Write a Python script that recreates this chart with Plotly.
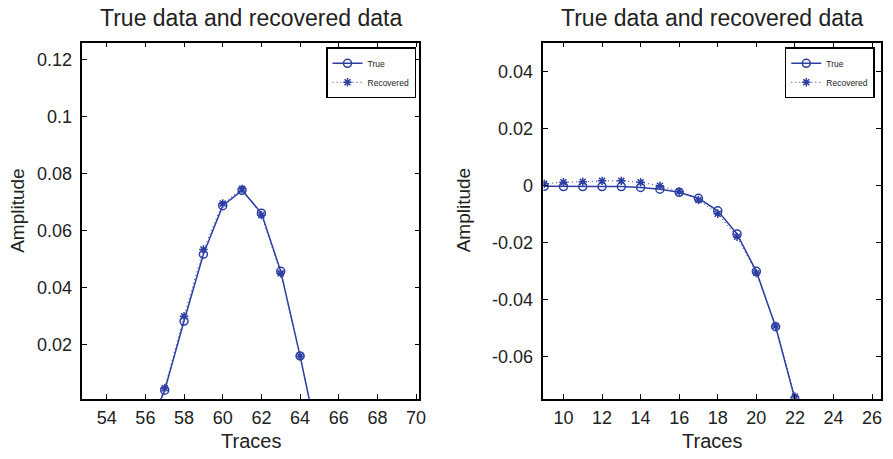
import plotly.graph_objects as go

# ---- data ----
left_traces = [56, 57, 58, 59, 60, 61, 62, 63, 64, 65]
left_true = [-0.0126, 0.0041, 0.0283, 0.0517, 0.0687, 0.0741, 0.0661, 0.0457, 0.0161, -0.0160]
left_recovered = [-0.0120, 0.0048, 0.0300, 0.0534, 0.0695, 0.0746, 0.0654, 0.0450, 0.0160, -0.0160]

right_traces = [9, 10, 11, 12, 13, 14, 15, 16, 17, 18, 19, 20, 21, 22]
right_true = [-0.0003, -0.0004, -0.0004, -0.0004, -0.0004, -0.0007, -0.0013, -0.0024,
              -0.0045, -0.0089, -0.0170, -0.0301, -0.0495, -0.0748]
right_recovered = [0.0006, 0.0011, 0.0013, 0.0016, 0.0016, 0.0011, -0.0001, -0.0021,
                   -0.0051, -0.0099, -0.0180, -0.0307, -0.0492, -0.0739]

left_xticks = [54, 56, 58, 60, 62, 64, 66, 68, 70]
left_yticks = [0.02, 0.04, 0.06, 0.08, 0.1, 0.12]
left_yticklabels = ["0.02", "0.04", "0.06", "0.08", "0.1", "0.12"]
right_xticks = [10, 12, 14, 16, 18, 20, 22, 24, 26]
right_yticks = [-0.06, -0.04, -0.02, 0, 0.02, 0.04]
right_yticklabels = ["-0.06", "-0.04", "-0.02", "0", "0.02", "0.04"]

title_text = "True data and recovered data"
xlabel = "Traces"
ylabel = "Amplitude"

W, H = 893, 459
BLUE = "#2E3FA3"
FONT = "Liberation Sans, Arial, Helvetica, sans-serif"

def px_x(p):
    return p / W

def px_y(p):
    return (H - p) / H

fig = go.Figure()

def add_pair(xs, ys_true, ys_rec, xa, ya, legend):
    fig.add_trace(go.Scatter(
        x=xs, y=ys_true, name="True", mode="lines+markers",
        xaxis=xa, yaxis=ya, legend=legend,
        line=dict(color=BLUE, width=1.5, dash="solid"),
        marker=dict(symbol="circle-open", size=8, color=BLUE, line=dict(width=1.5, color=BLUE)),
    ))
    fig.add_trace(go.Scatter(
        x=xs, y=ys_rec, name="Recovered", mode="lines+markers",
        xaxis=xa, yaxis=ya, legend=legend,
        line=dict(color=BLUE, width=1, dash="1px,3px"),
        marker=dict(symbol="asterisk-open", size=7, color=BLUE, line=dict(width=1.5, color=BLUE)),
    ))

add_pair(left_traces, left_true, left_recovered, "x", "y", "legend")
add_pair(right_traces, right_true, right_recovered, "x2", "y2", "legend2")

ydom = [px_y(398.7), px_y(42.7)]
axis_common = dict(
    showline=True, linecolor="black", linewidth=1.5, mirror="ticks",
    ticks="inside", ticklen=5, tickwidth=1, tickcolor="black",
    showgrid=False, zeroline=False,
    tickfont=dict(family=FONT, size=18, color="#222"),
)

legend_common = dict(
    xanchor="right", yanchor="top",
    bgcolor="white", bordercolor="black", borderwidth=1.5,
    font=dict(family=FONT, size=8.5, color="#222"),
    itemwidth=30, tracegroupgap=0,
)

fig.update_layout(
    width=W, height=H, autosize=False,
    margin=dict(l=0, r=0, t=0, b=0),
    paper_bgcolor="white", plot_bgcolor="white",
    font=dict(family=FONT, color="#222"),
    xaxis=dict(domain=[px_x(83), px_x(422.7)], range=[52.74, 70.17],
               tickvals=left_xticks, ticktext=[str(v) for v in left_xticks], anchor="y",
               ticklabelstandoff=2, **axis_common),
    yaxis=dict(domain=ydom, range=[0.0011, 0.1258],
               tickvals=left_yticks, ticktext=left_yticklabels, anchor="x",
               ticklabelstandoff=5, **axis_common),
    xaxis2=dict(domain=[px_x(547.7), px_x(887.7)], range=[8.96, 26.45],
                tickvals=right_xticks, ticktext=[str(v) for v in right_xticks], anchor="y2",
                ticklabelstandoff=2, **axis_common),
    yaxis2=dict(domain=ydom, range=[-0.0747, 0.050],
                tickvals=right_yticks, ticktext=right_yticklabels, anchor="x2",
                ticklabelstandoff=5, **axis_common),
    legend=dict(x=px_x(419.3), y=px_y(47.3), **legend_common),
    legend2=dict(x=px_x(881.7), y=px_y(47.3), **legend_common),
    showlegend=True,
)

annots = []
for cx, ylx in [((83 + 422.7) / 2, 17), ((547.7 + 887.7) / 2, 467)]:
    annots.append(dict(text=title_text, x=px_x(cx), y=px_y(18), xref="paper", yref="paper",
                       xanchor="center", yanchor="middle", showarrow=False,
                       font=dict(family=FONT, size=23, color="#222")))
    annots.append(dict(text=xlabel, x=px_x(cx), y=px_y(441), xref="paper", yref="paper",
                       xanchor="center", yanchor="middle", showarrow=False,
                       font=dict(family=FONT, size=20, color="#222")))
    annots.append(dict(text=ylabel, x=px_x(ylx), y=px_y(210), xref="paper", yref="paper",
                       xanchor="center", yanchor="middle", showarrow=False, textangle=-90,
                       font=dict(family=FONT, size=19, color="#222")))
fig.update_layout(annotations=annots)

fig.write_html("out.html")
